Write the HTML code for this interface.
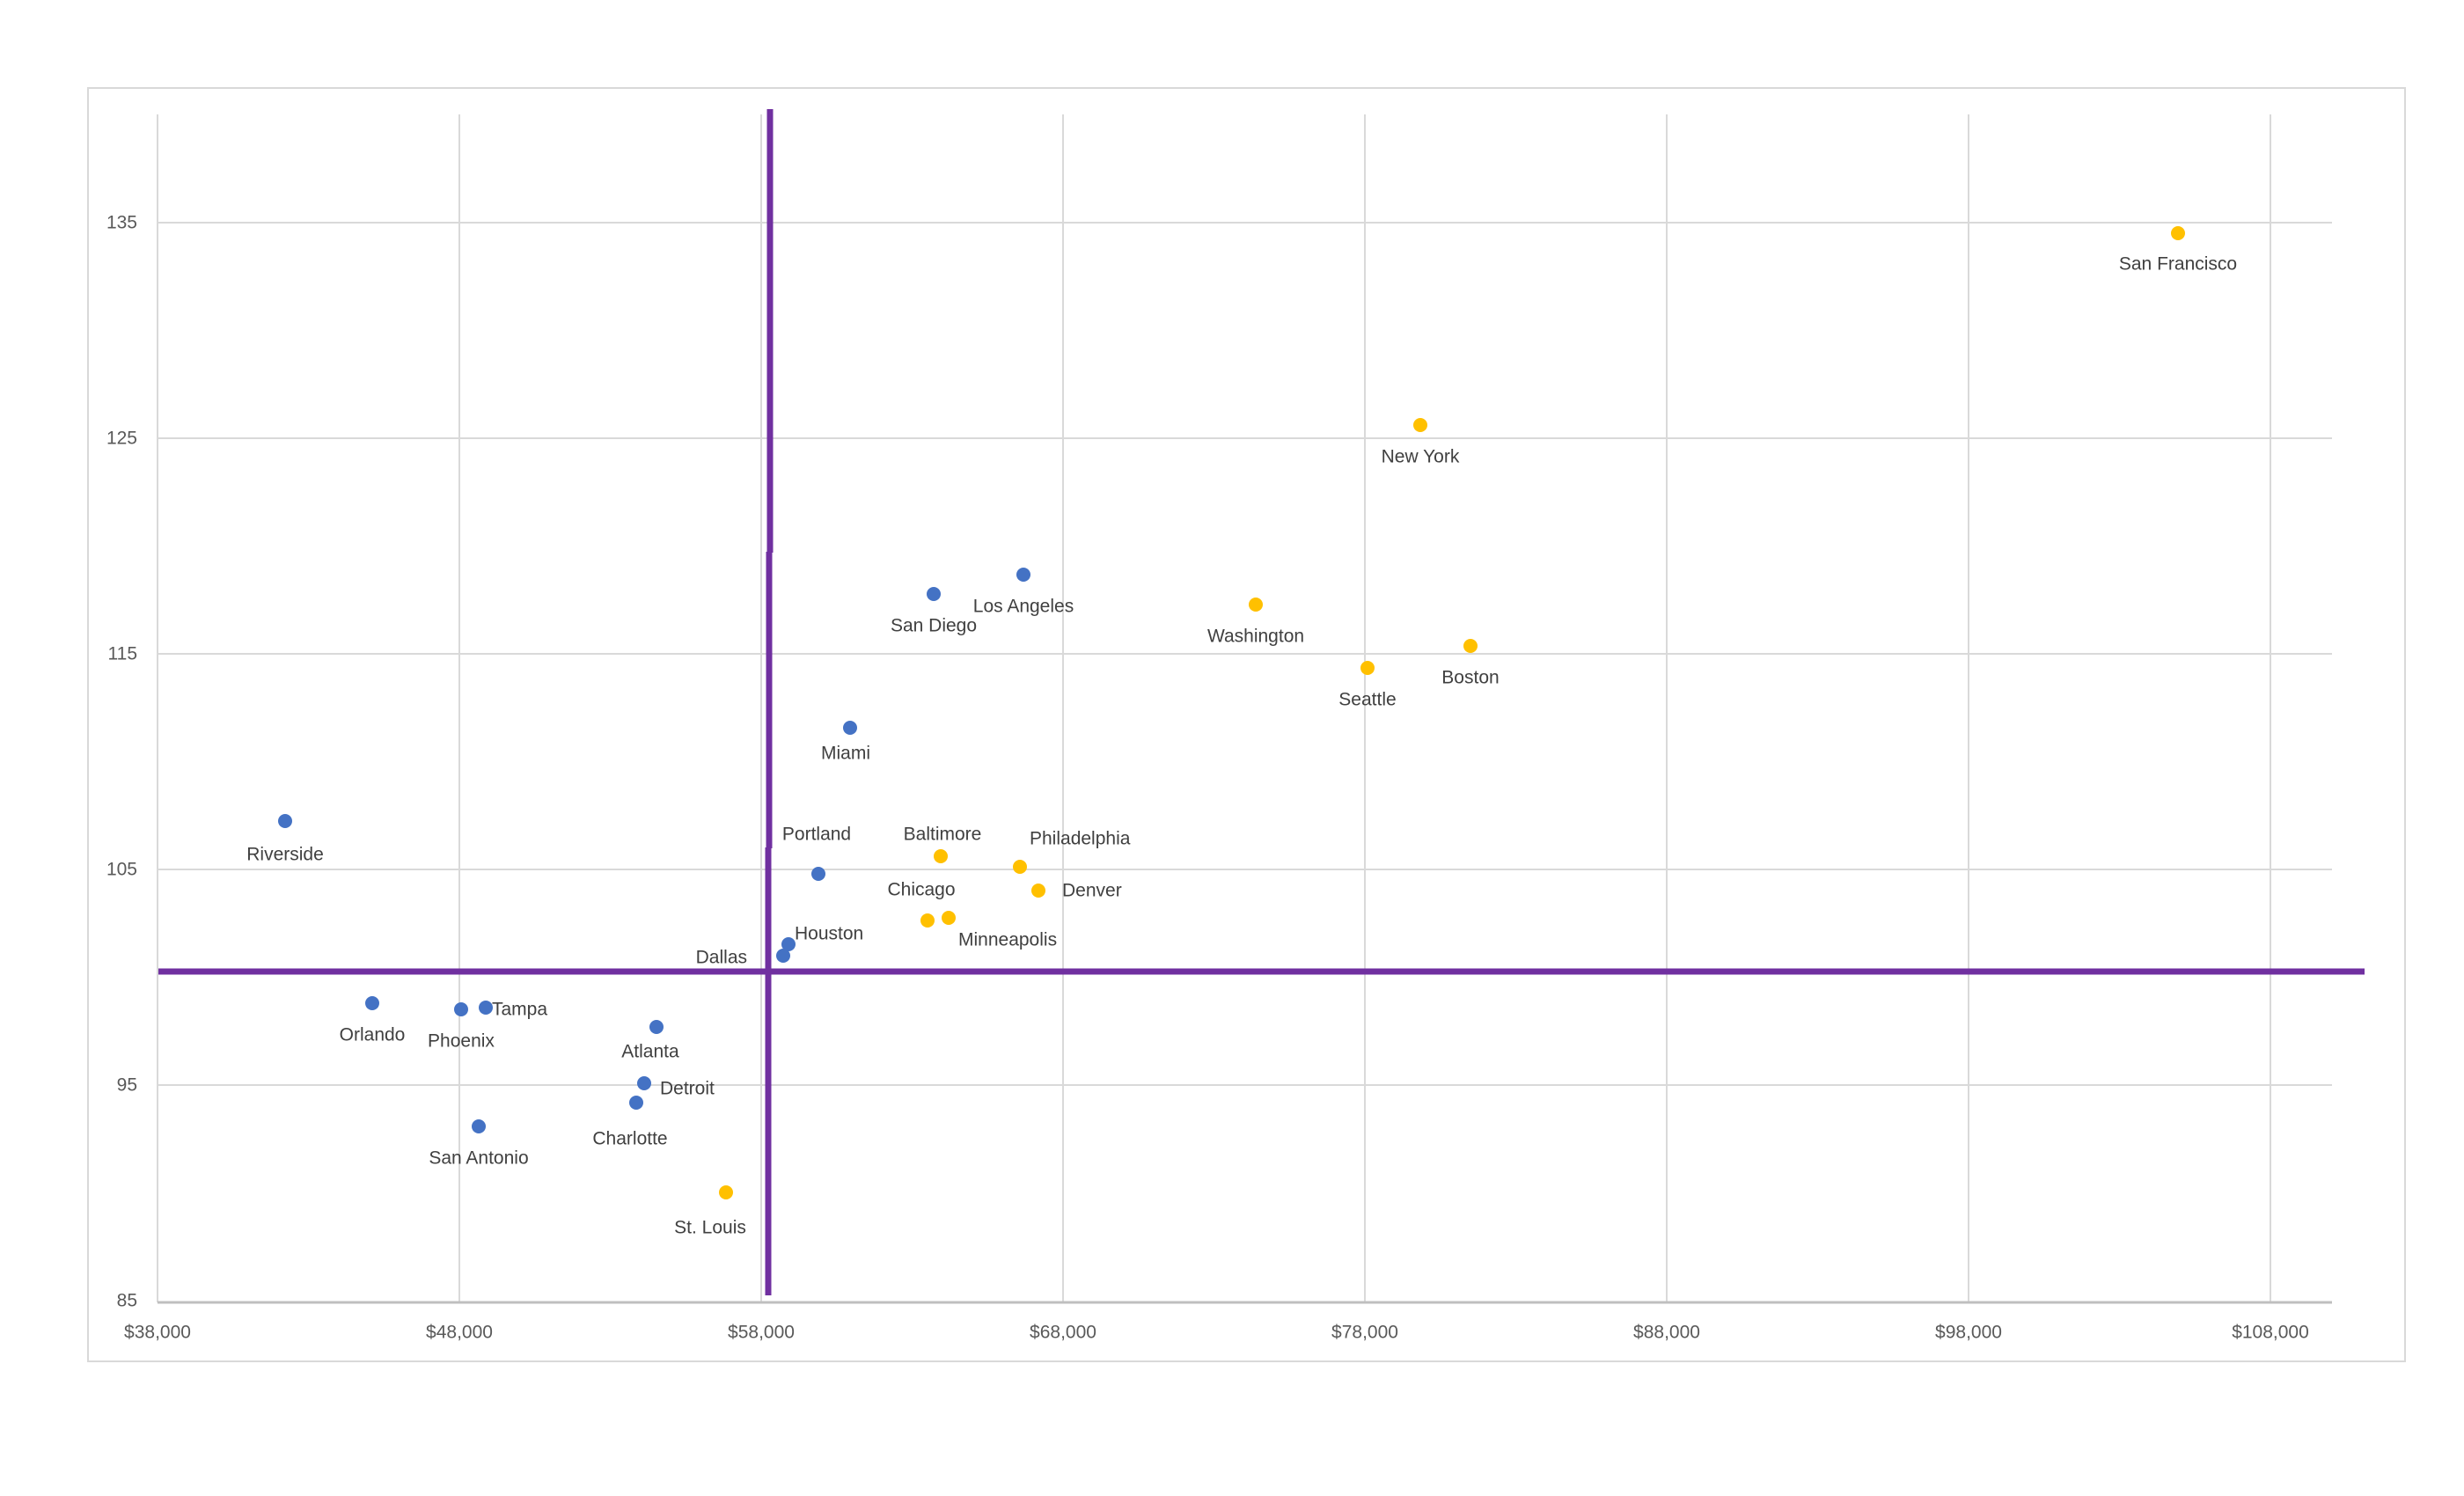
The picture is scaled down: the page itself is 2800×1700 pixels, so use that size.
<!DOCTYPE html>
<html><head><meta charset="utf-8"><style>html,body{margin:0;padding:0;background:#fff}svg{display:block}</style></head><body>
<svg width="2800" height="1700" viewBox="0 0 2800 1700" xmlns="http://www.w3.org/2000/svg" font-family="'Liberation Sans', sans-serif">
<rect x="100" y="100" width="2633" height="1447" fill="#fff" stroke="#d9d9d9" stroke-width="2"/>
<g stroke="#d9d9d9" stroke-width="2">
<line x1="179" y1="130" x2="179" y2="1480"/>
<line x1="522" y1="130" x2="522" y2="1480"/>
<line x1="865" y1="130" x2="865" y2="1480"/>
<line x1="1208" y1="130" x2="1208" y2="1480"/>
<line x1="1551" y1="130" x2="1551" y2="1480"/>
<line x1="1894" y1="130" x2="1894" y2="1480"/>
<line x1="2237" y1="130" x2="2237" y2="1480"/>
<line x1="2580" y1="130" x2="2580" y2="1480"/>
<line x1="179" y1="253" x2="2650" y2="253"/>
<line x1="179" y1="498" x2="2650" y2="498"/>
<line x1="179" y1="743" x2="2650" y2="743"/>
<line x1="179" y1="988" x2="2650" y2="988"/>
<line x1="179" y1="1233" x2="2650" y2="1233"/>
</g>
<line x1="179" y1="1480" x2="2650" y2="1480" stroke="#bfbfbf" stroke-width="3"/>
<g fill="#595959" font-size="21" text-anchor="end" dominant-baseline="central">
<text x="156" y="253">135</text><text x="156" y="498">125</text><text x="156" y="743">115</text><text x="156" y="988">105</text><text x="156" y="1233">95</text><text x="156" y="1478">85</text>
</g>
<g fill="#595959" font-size="21" text-anchor="middle" dominant-baseline="central">
<text x="179" y="1514">$38,000</text><text x="522" y="1514">$48,000</text><text x="865" y="1514">$58,000</text><text x="1208" y="1514">$68,000</text><text x="1551" y="1514">$78,000</text><text x="1894" y="1514">$88,000</text><text x="2237" y="1514">$98,000</text><text x="2580" y="1514">$108,000</text>
</g>
<g stroke="#7030A0" stroke-width="7">
<line x1="875" y1="124" x2="875" y2="628"/>
<line x1="874" y1="627" x2="874" y2="964"/>
<line x1="873" y1="963" x2="873" y2="1472"/>
<line x1="180" y1="1104" x2="2687" y2="1104"/>
</g>
<g fill="#4472C4">
<circle cx="1163" cy="653" r="8"/><circle cx="1061" cy="675" r="8"/><circle cx="966" cy="827" r="8"/><circle cx="324" cy="933" r="8"/><circle cx="930" cy="993" r="8"/><circle cx="896" cy="1073" r="8"/><circle cx="890" cy="1086" r="8"/><circle cx="423" cy="1140" r="8"/><circle cx="524" cy="1147" r="8"/><circle cx="552" cy="1145" r="8"/><circle cx="746" cy="1167" r="8"/><circle cx="732" cy="1231" r="8"/><circle cx="723" cy="1253" r="8"/><circle cx="544" cy="1280" r="8"/>
</g>
<g fill="#FFC000">
<circle cx="2475" cy="265" r="8"/><circle cx="1614" cy="483" r="8"/><circle cx="1427" cy="687" r="8"/><circle cx="1671" cy="734" r="8"/><circle cx="1554" cy="759" r="8"/><circle cx="1069" cy="973" r="8"/><circle cx="1159" cy="985" r="8"/><circle cx="1180" cy="1012" r="8"/><circle cx="1054" cy="1046" r="8"/><circle cx="1078" cy="1043" r="8"/><circle cx="825" cy="1355" r="8"/>
</g>
<g fill="#404040" font-size="21" text-anchor="middle" dominant-baseline="central">
<text x="2475" y="300">San Francisco</text>
<text x="1614" y="519">New York</text>
<text x="1163" y="689">Los Angeles</text>
<text x="1061" y="711">San Diego</text>
<text x="1427" y="723">Washington</text>
<text x="1671" y="770">Boston</text>
<text x="1554" y="795">Seattle</text>
<text x="961" y="856">Miami</text>
<text x="324" y="971">Riverside</text>
<text x="928" y="948">Portland</text>
<text x="1071" y="948">Baltimore</text>
<text x="1047" y="1011">Chicago</text>
<text x="423" y="1176">Orlando</text>
<text x="524" y="1183">Phoenix</text>
<text x="739" y="1195">Atlanta</text>
<text x="716" y="1294">Charlotte</text>
<text x="544" y="1316">San Antonio</text>
<text x="807" y="1395">St. Louis</text>
</g>
<g fill="#404040" font-size="21" text-anchor="start" dominant-baseline="central">
<text x="1170" y="953">Philadelphia</text>
<text x="1207" y="1012">Denver</text>
<text x="1089" y="1068">Minneapolis</text>
<text x="903" y="1061">Houston</text>
<text x="559" y="1147">Tampa</text>
<text x="750" y="1237">Detroit</text>
</g>
<text x="849" y="1088" fill="#404040" font-size="21" text-anchor="end" dominant-baseline="central">Dallas</text>
</svg>
</body></html>
